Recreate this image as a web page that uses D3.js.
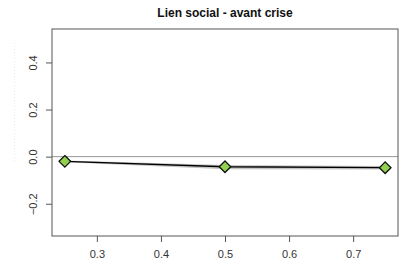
<!DOCTYPE html>
<html>
<head>
<meta charset="utf-8">
<style>
body { margin: 0; background: #fff; }
svg { font-family: "Liberation Sans", Arial, sans-serif; }
</style>
</head>
<body>
<svg width="411" height="264"></svg>
<script src="https://d3js.org/d3.v7.min.js"></script>
<script>
// data
var xs = [0.25, 0.5, 0.75];
var ys = [-0.020, -0.043, -0.047];
var bandLow = [-0.024, -0.054, -0.055];
var bandHigh = [-0.016, -0.035, -0.040];
var xTicks = [0.3, 0.4, 0.5, 0.6, 0.7];
var yTicks = [-0.2, 0.0, 0.2, 0.4];

var svg = d3.select("svg");

var x = d3.scaleLinear().domain([0.23, 0.77]).range([52, 398]);
var y = d3.scaleLinear().domain([-0.337, 0.542]).range([236, 29]);

// title
svg.append("text")
    .attr("x", 225).attr("y", 17)
    .attr("text-anchor", "middle")
    .attr("font-weight", "bold")
    .attr("font-size", 12)
    .attr("fill", "#111")
    .text("Lien social - avant crise");

// faint dotted artefact on the left
svg.append("line")
    .attr("x1", 14.5).attr("x2", 14.5)
    .attr("y1", 43).attr("y2", 163)
    .attr("stroke", "#d8f6f6")
    .attr("stroke-dasharray", "1,2");

// zero line
svg.append("line")
    .attr("x1", x.range()[0]).attr("x2", x.range()[1])
    .attr("y1", y(0)).attr("y2", y(0))
    .attr("stroke", "#999");

// band
var pts = xs.map(function(d, i) { return {x: d, lo: bandLow[i], hi: bandHigh[i], y: ys[i]}; });
svg.append("path")
    .datum(pts)
    .attr("fill", "#c4c4c4")
    .attr("d", d3.area()
        .x(function(d) { return x(d.x); })
        .y0(function(d) { return y(d.lo); })
        .y1(function(d) { return y(d.hi); }));

// line
svg.append("path")
    .datum(pts)
    .attr("fill", "none")
    .attr("stroke", "#000")
    .attr("stroke-width", 1.3)
    .attr("d", d3.line()
        .x(function(d) { return x(d.x); })
        .y(function(d) { return y(d.y); }));

// diamonds
svg.selectAll("path.pt")
    .data(pts)
  .enter().append("path")
    .attr("class", "pt")
    .attr("transform", function(d) { return "translate(" + x(d.x) + "," + y(d.y) + ")"; })
    .attr("d", "M0,-5.8L5.8,0L0,5.8L-5.8,0Z")
    .attr("fill", "#92d050")
    .attr("stroke", "#111")
    .attr("stroke-width", 1.3);

// box
svg.append("rect")
    .attr("x", 52).attr("y", 29)
    .attr("width", 346).attr("height", 207)
    .attr("fill", "none")
    .attr("stroke", "#555");

// x axis
var gx = svg.append("g")
    .attr("transform", "translate(0,236)")
    .call(d3.axisBottom(x).tickValues(xTicks).tickSize(6).tickPadding(8)
        .tickFormat(d3.format(".1f")));
gx.select(".domain").remove();
gx.selectAll("line").attr("stroke", "#555");
gx.selectAll("text").attr("font-size", 11).attr("fill", "#333")
    .attr("font-family", "Liberation Sans, Arial, sans-serif");

// y axis
var gy = svg.append("g")
    .attr("transform", "translate(52,0)")
    .call(d3.axisLeft(y).tickValues(yTicks).tickSize(6).tickFormat(d3.format(".1f")));
gy.select(".domain").remove();
gy.selectAll("line").attr("stroke", "#555");
gy.selectAll("text").remove();
gy.selectAll(".tick").append("text")
    .attr("transform", "translate(-15,0) rotate(-90)")
    .attr("text-anchor", "middle")
    .attr("font-size", 11)
    .attr("fill", "#333")
    .attr("font-family", "Liberation Sans, Arial, sans-serif")
    .text(function(d) { return d3.format(".1f")(d); });
</script>
</body>
</html>
